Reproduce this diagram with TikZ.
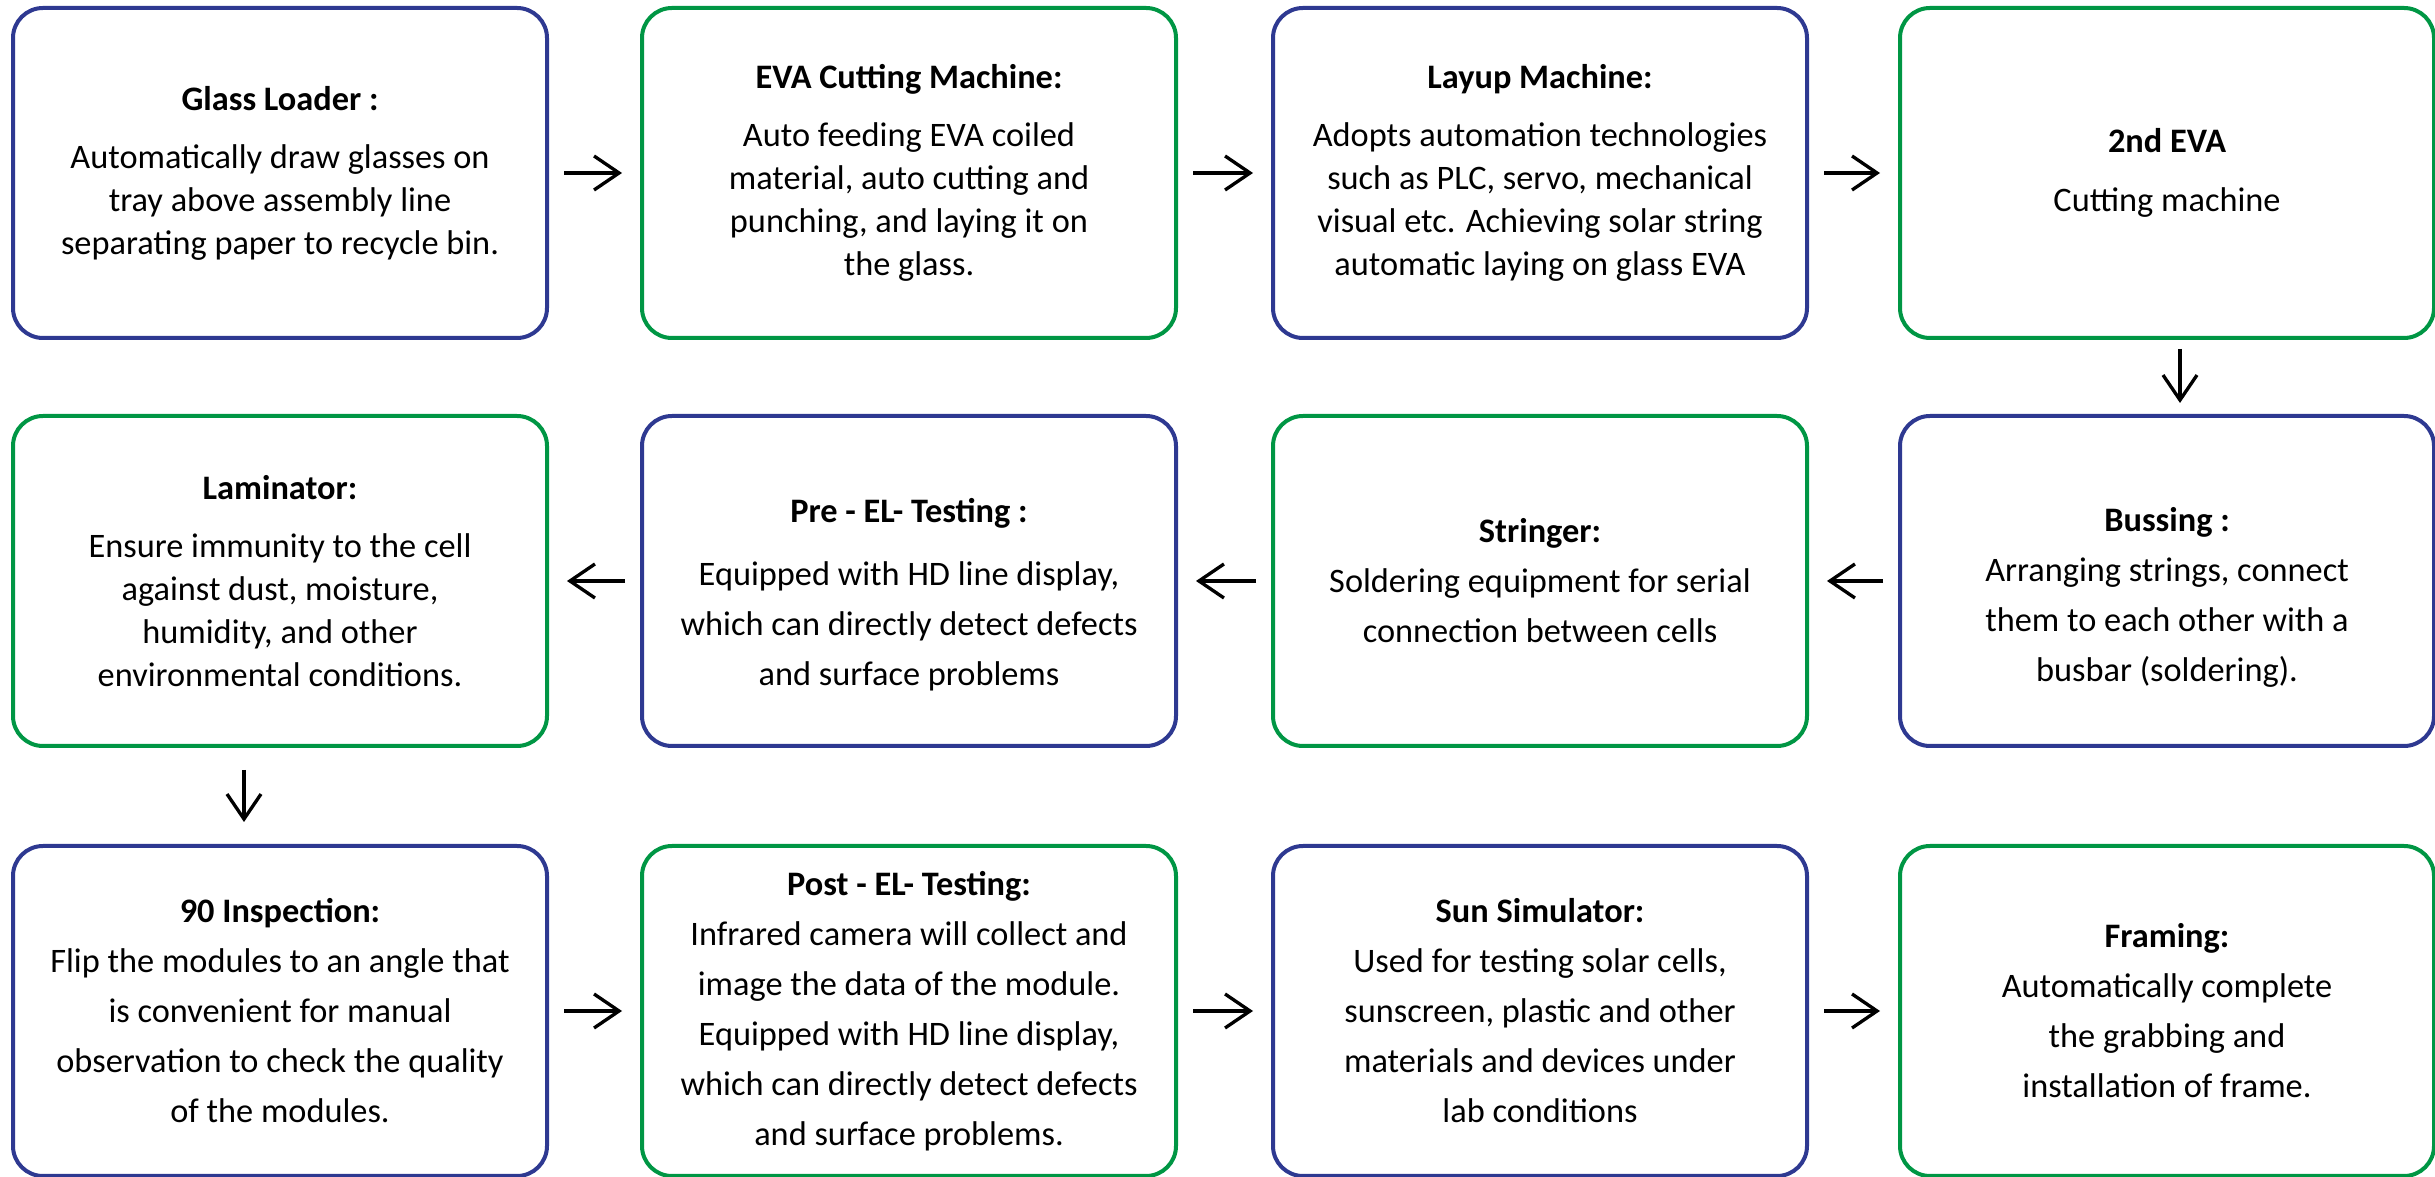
\documentclass[tikz,border=0pt]{standalone}
\usepackage{fontspec}
\setmainfont{Carlito}
\usepackage{tikz}
\usetikzlibrary{arrows.meta}
\definecolor{bxblue}{RGB}{46,57,145}
\definecolor{bxgreen}{RGB}{0,150,68}

\begin{document}
\begin{tikzpicture}[x=0.3pt, y=-0.3pt]
\tikzstyle{bx}=[draw, rounded corners=9pt, line width=1.2pt, minimum width=160.2pt,
                minimum height=99pt, inner sep=0pt, align=center, font=\fontsize{10.3}{12.9}\selectfont]
\tikzstyle{bl}=[bx, draw=bxblue]
\tikzstyle{gr}=[bx, draw=bxgreen]
\tikzstyle{wide}=[font=\fontsize{10.3}{15}\selectfont]
\tikzstyle{arr}=[-{Straight Barb[length=7.5pt, width=10.2pt]}, line width=1pt, shorten <=4.5pt, shorten >=5.4pt]
\useasboundingbox (0,0) rectangle (2435,1177);
% row 1
\node[bl] (GL) at (280,173) {\textbf{Glass Loader :}\\[4.5pt] Automatically draw glasses on\\ tray above assembly line\\ separating paper to recycle bin.};
\node[gr] (EVA) at (909,173) {\textbf{EVA Cutting Machine:}\\[4.5pt] Auto feeding EVA coiled\\ material, auto cutting and\\ punching, and laying it on\\ the glass.};
\node[bl] (LU) at (1540,173) {\textbf{Layup Machine:}\\[4.5pt] Adopts automation technologies\\ such as PLC, servo, mechanical\\ visual etc. Achieving solar string\\ automatic laying on glass EVA};
\node[gr] (EVB) at (2167,173) {\textbf{2nd EVA}\\[5pt] Cutting machine};
% row 2
\node[bl, wide] (BU) at (2167,581) {\rule{0pt}{17pt}\textbf{Bussing :}\\ Arranging strings, connect\\ them to each other with a\\ busbar (soldering).};
\node[gr, wide] (ST) at (1540,581) {\textbf{Stringer:}\\ Soldering equipment for serial\\ connection between cells};
\node[bl, wide] (PRE) at (909,581) {\rule{0pt}{15.5pt}\textbf{Pre - EL- Testing :}\\[4pt] Equipped with HD line display,\\ which can directly detect defects\\ and surface problems};
\node[gr] (LAM) at (280,581) {\textbf{Laminator:}\\[4.5pt] Ensure immunity to the cell\\ against dust, moisture,\\ humidity, and other\\ environmental conditions.};
% row 3
\node[bl, wide] (INS) at (280,1011) {\textbf{90 Inspection:}\\ Flip the modules to an angle that\\ is convenient for manual\\ observation to check the quality\\ of the modules.};
\node[gr, wide] (POST) at (909,1011) {\textbf{Post - EL- Testing:}\\ Infrared camera will collect and\\ image the data of the module.\\ Equipped with HD line display,\\ which can directly detect defects\\ and surface problems.};
\node[bl, wide] (SUN) at (1540,1011) {\textbf{Sun Simulator:}\\ Used for testing solar cells,\\ sunscreen, plastic and other\\ materials and devices under\\ lab conditions};
\node[gr, wide] (FR) at (2167,1011) {\textbf{Framing:}\\ Automatically complete\\ the grabbing and\\ installation of frame.};
\foreach \i/\j in {GL/EVA,EVA/LU,LU/EVB,BU/ST,ST/PRE,PRE/LAM,INS/POST,POST/SUN,SUN/FR}{\draw[arr] (\i) -- (\j);}
\draw[arr, shorten <=2.7pt, shorten >=3.3pt] ([xshift=3.9pt]EVB.south) -- ([xshift=3.9pt]BU.north);
\draw[arr, shorten <=6.6pt, shorten >=6.6pt] ([xshift=-10.8pt]LAM.south) -- ([xshift=-10.8pt]INS.north);
\end{tikzpicture}
\end{document}
